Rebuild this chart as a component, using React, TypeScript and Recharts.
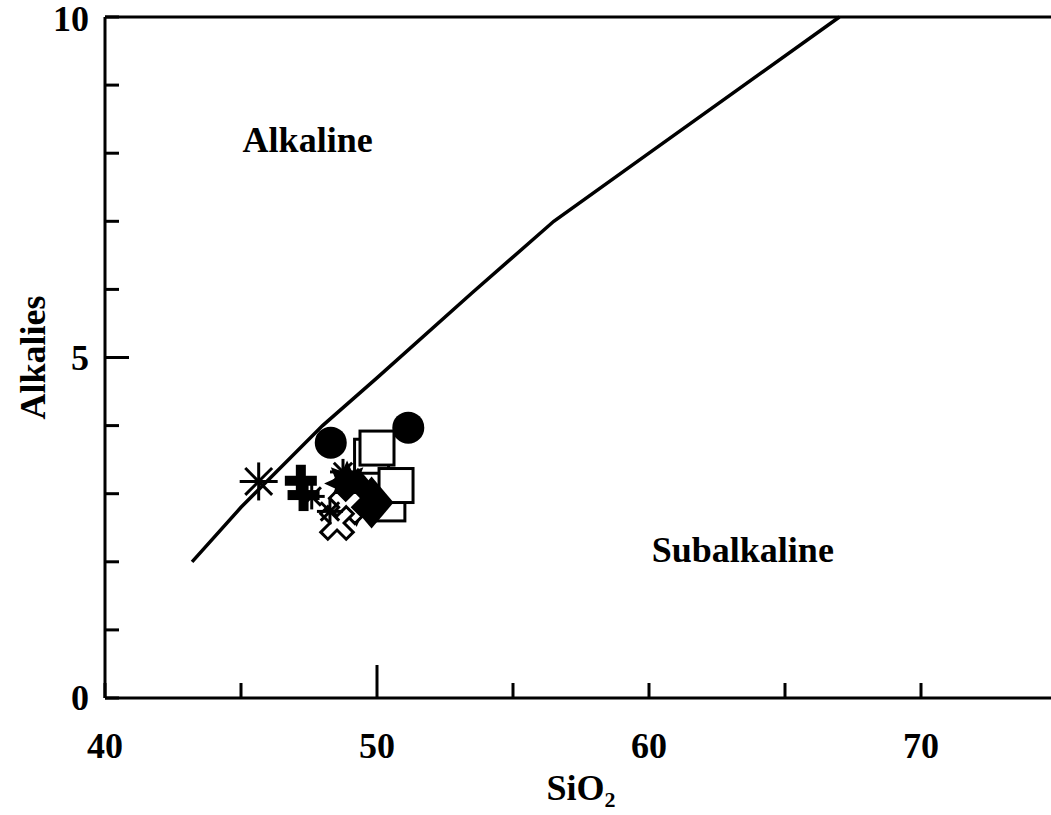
import { ScatterChart, Scatter, XAxis, YAxis, ReferenceDot, Label } from 'recharts';

// Irvine & Baragar style alkaline / subalkaline boundary
const LINE_SIO2 = [43.2, 45, 48, 50, 53.5, 56.5, 60, 67];
const LINE_ALK = [2.0, 2.8, 4.0, 4.7, 5.95, 7.0, 8.0, 10.0];

const CIRCLE_SIO2 = [48.3, 51.15];
const CIRCLE_ALK = [3.75, 3.97];

const SQUARE_SIO2 = [49.8, 50.0, 50.4, 50.7];
const SQUARE_ALK = [3.55, 3.67, 2.85, 3.12];

const DIAMOND_SIO2 = [49.3, 49.8];
const DIAMOND_ALK = [3.0, 2.87];

const FSTAR_SIO2 = [48.9, 49.25];
const FSTAR_ALK = [3.15, 2.85];

const PLUS_SIO2 = [47.3, 47.2];
const PLUS_ALK = [2.98, 3.19];

const XMARK_SIO2 = [48.85, 48.53];
const XMARK_ALK = [2.8, 2.57];

const ASTERISK_SIO2 = [45.65, 47.6, 48.27, 48.75];
const ASTERISK_ALK = [3.18, 2.96, 2.74, 3.32];
const ASTERISK_SIZE = [19, 13, 13, 13];

// field labels: [SiO2, alkalies]
const ALKALINE_POS = [47.45, 8.2];
const SUBALKALINE_POS = [63.45, 2.18];

const X_TICKS = [40, 45, 50, 55, 60, 65, 70, 75];
const X_TICK_LABELS = [40, 50, 60, 70];
const Y_TICKS = [0, 1, 2, 3, 4, 5, 6, 7, 8, 9, 10];
const Y_TICK_LABELS = [0, 5, 10];

const FONT = '"Liberation Serif", "Times New Roman", serif';
const FS = 36;
const INK = '#000';

const zip = (xs: number[], ys: number[], extra?: number[]) =>
  xs.map((x, i) => ({ x, y: ys[i], s: extra ? extra[i] : 0 }));

const lineData = zip(LINE_SIO2, LINE_ALK);

const BottomTick = ({ x, y, payload }: any) => {
  const v = payload.value;
  const len = v === 50 ? 33 : 15;
  return (
    <g>
      <line x1={x} x2={x} y1={y} y2={y - len} stroke={INK} strokeWidth={3} />
      {X_TICK_LABELS.includes(v) && (
        <text x={x} y={y + 60} textAnchor="middle" fontFamily={FONT} fontWeight="bold" fontSize={FS} fill={INK}>
          {v}
        </text>
      )}
    </g>
  );
};

const TopTick = ({ x, y }: any) => (
  <line x1={x} x2={x} y1={y} y2={y + 15} stroke={INK} strokeWidth={3} />
);

const LeftTick = ({ x, y, payload }: any) => {
  const v = payload.value;
  const len = v === 5 ? 24 : 14;
  return (
    <g>
      <line x1={x} x2={x + len} y1={y} y2={y} stroke={INK} strokeWidth={3} />
      {Y_TICK_LABELS.includes(v) && (
        <text x={x - 16} y={y + (v === 10 ? 14 : 12)} textAnchor="end" fontFamily={FONT} fontWeight="bold" fontSize={FS} fill={INK}>
          {v}
        </text>
      )}
    </g>
  );
};

const RightTick = ({ x, y, payload }: any) => {
  const len = payload.value === 5 ? 24 : 14;
  return <line x1={x} x2={x - len} y1={y} y2={y} stroke={INK} strokeWidth={3} />;
};

const Circle = ({ cx, cy }: any) => <circle cx={cx} cy={cy} r={16} fill={INK} />;

const OpenSquare = ({ cx, cy }: any) => (
  <rect x={cx - 17} y={cy - 17} width={34} height={34} fill="#fff" stroke={INK} strokeWidth={3} />
);

const Diamond = ({ cx, cy }: any) => (
  <polygon points={`${cx},${cy - 26} ${cx + 22},${cy} ${cx},${cy + 26} ${cx - 22},${cy}`} fill={INK} />
);

const FilledStar = ({ cx, cy }: any) => {
  const pts: string[] = [];
  for (let i = 0; i < 16; i++) {
    const r = i % 2 === 0 ? 23 : 13;
    const a = (Math.PI * i) / 8 - Math.PI / 2;
    pts.push(`${cx + r * Math.cos(a)},${cy + r * Math.sin(a)}`);
  }
  return <polygon points={pts.join(' ')} fill={INK} />;
};

const Plus = ({ cx, cy }: any) => (
  <g fill={INK}>
    <rect x={cx - 16} y={cy - 5} width={32} height={10} />
    <rect x={cx - 5} y={cy - 16} width={10} height={32} />
  </g>
);

const XMark = ({ cx, cy }: any) => {
  const a = 5;
  const b = 18;
  const pts = [
    [-a, -b], [a, -b], [a, -a], [b, -a], [b, a], [a, a], [a, b], [-a, b], [-a, a], [-b, a], [-b, -a], [-a, -a],
  ]
    .map(([px, py]) => {
      const rx = (px - py) * Math.SQRT1_2;
      const ry = (px + py) * Math.SQRT1_2;
      return `${cx + rx},${cy + ry}`;
    })
    .join(' ');
  return <polygon points={pts} fill="#fff" stroke={INK} strokeWidth={3} />;
};

const Asterisk = ({ cx, cy, payload }: any) => {
  const r = payload.s;
  const d = r * Math.SQRT1_2;
  return (
    <g stroke={INK} strokeWidth={3}>
      <line x1={cx - r} x2={cx + r} y1={cy} y2={cy} />
      <line x1={cx} x2={cx} y1={cy - r} y2={cy + r} />
      <line x1={cx - d} x2={cx + d} y1={cy - d} y2={cy + d} />
      <line x1={cx - d} x2={cx + d} y1={cy + d} y2={cy - d} />
    </g>
  );
};

const Nothing = () => <g />;

const fieldLabel = (text: string) => ({ cx, cy }: any) => (
  <text x={cx} y={cy + 12} textAnchor="middle" fontFamily={FONT} fontWeight="bold" fontSize={FS} fill={INK}>
    {text}
  </text>
);

export default function App() {
  return (
    <div style={{ position: 'fixed', left: 0, top: 0, width: 1051, height: 815, overflow: 'hidden', background: '#fff' }}>
      <ScatterChart width={1100} height={815} margin={{ top: 16, right: 42, left: 25, bottom: 57 }}>
        <XAxis
          type="number"
          dataKey="x"
          domain={[40, 75]}
          ticks={X_TICKS}
          interval={0}
          tickSize={0}
          tickMargin={0}
          tick={(p: any) => <BottomTick {...p} />}
          axisLine={{ stroke: INK, strokeWidth: 3 }}
          height={60}
        >
          <Label
            content={({ viewBox }: any) => (
              <text
                x={viewBox.x + viewBox.width / 2}
                y={viewBox.y + 102}
                textAnchor="middle"
                fontFamily={FONT}
                fontWeight="bold"
                fontSize={FS}
                fill={INK}
              >
                SiO
                <tspan dy={7} fontSize={22}>2</tspan>
              </text>
            )}
          />
        </XAxis>
        <XAxis
          xAxisId="top"
          orientation="top"
          type="number"
          domain={[40, 75]}
          ticks={X_TICKS}
          interval={0}
          tickSize={0}
          tickMargin={0}
          tick={(p: any) => <TopTick {...p} />}
          axisLine={{ stroke: INK, strokeWidth: 3 }}
          height={1}
        />
        <YAxis
          type="number"
          dataKey="y"
          domain={[0, 10]}
          ticks={Y_TICKS}
          interval={0}
          tickSize={0}
          tickMargin={0}
          tick={(p: any) => <LeftTick {...p} />}
          axisLine={{ stroke: INK, strokeWidth: 3 }}
          width={80}
        >
          <Label
            content={({ viewBox }: any) => (
              <text
                x={45}
                y={viewBox.y + viewBox.height / 2}
                transform={`rotate(-90, 45, ${viewBox.y + viewBox.height / 2})`}
                textAnchor="middle"
                fontFamily={FONT}
                fontWeight="bold"
                fontSize={FS}
                fill={INK}
              >
                Alkalies
              </text>
            )}
          />
        </YAxis>
        <YAxis
          yAxisId="right"
          orientation="right"
          type="number"
          domain={[0, 10]}
          ticks={Y_TICKS}
          interval={0}
          tickSize={0}
          tickMargin={0}
          tick={(p: any) => <RightTick {...p} />}
          axisLine={{ stroke: INK, strokeWidth: 3 }}
          width={1}
        />

        <Scatter
          data={lineData}
          line={{ stroke: INK, strokeWidth: 3.5 }}
          lineType="joint"
          shape={Nothing}
          isAnimationActive={false}
        />
        <Scatter data={zip(SQUARE_SIO2, SQUARE_ALK)} shape={OpenSquare} isAnimationActive={false} />
        <Scatter data={zip(CIRCLE_SIO2, CIRCLE_ALK)} shape={Circle} isAnimationActive={false} />
        <Scatter data={zip(FSTAR_SIO2, FSTAR_ALK)} shape={FilledStar} isAnimationActive={false} />
        <Scatter data={zip(DIAMOND_SIO2, DIAMOND_ALK)} shape={Diamond} isAnimationActive={false} />
        <Scatter data={zip(PLUS_SIO2, PLUS_ALK)} shape={Plus} isAnimationActive={false} />
        <Scatter data={zip(XMARK_SIO2, XMARK_ALK)} shape={XMark} isAnimationActive={false} />
        <Scatter data={zip(ASTERISK_SIO2, ASTERISK_ALK, ASTERISK_SIZE)} shape={Asterisk} isAnimationActive={false} />

        <ReferenceDot x={ALKALINE_POS[0]} y={ALKALINE_POS[1]} r={0} shape={fieldLabel('Alkaline')} />
        <ReferenceDot x={SUBALKALINE_POS[0]} y={SUBALKALINE_POS[1]} r={0} shape={fieldLabel('Subalkaline')} />
      </ScatterChart>
    </div>
  );
}
